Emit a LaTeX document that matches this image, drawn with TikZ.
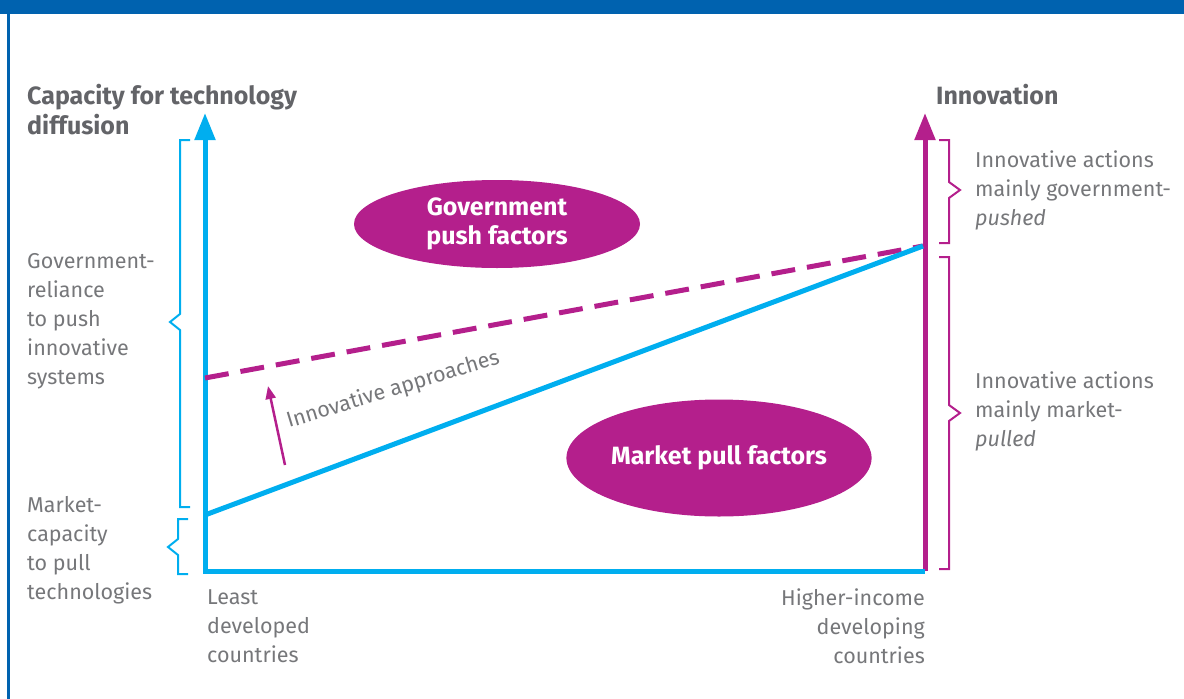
\documentclass[tikz,border=0pt]{standalone}
\usepackage{fontspec}
\setmainfont{Fira Sans}
\usetikzlibrary{arrows.meta,shapes.geometric}
\definecolor{barblue}{RGB}{0,98,175}
\definecolor{axcyan}{RGB}{0,174,239}
\definecolor{axmag}{RGB}{180,31,140}
\definecolor{txtgray}{RGB}{118,119,122}
\definecolor{headgray}{RGB}{99,100,104}
\tikzset{
  lbl/.style={text=txtgray, font=\fontsize{21.5}{29}\selectfont, align=left, inner sep=0pt},
  head/.style={text=headgray, font=\fontsize{25}{30}\selectfont\bfseries, align=left, inner sep=0pt},
  blob/.style={ellipse, fill=axmag, text=white, font=\fontsize{25}{29}\selectfont\bfseries, align=center, inner sep=0pt},
  axis/.style={line width=5pt, line join=miter},
  brc/.style={line width=2pt},
}
\begin{document}
\begin{tikzpicture}[x=1pt,y=-1pt]
\useasboundingbox (0,0) rectangle (1184,699);
\fill[barblue] (0,0) rectangle (1184,14);
\draw[barblue, line width=2.5pt] (8.5,0) -- (8.5,699);
\coordinate (ytop) at (205,113);
\coordinate (orig) at (205,571);
\coordinate (xend) at (925,571);
\coordinate (itop) at (925,113);
\coordinate (lowcap) at (205,515);
\coordinate (lowpush) at (205,378);
\coordinate (meet) at (923,246);
\coordinate (arrfrom) at (285,465);
\coordinate (arrto) at (268,386);
\draw[axis, axmag, -{Triangle[length=27pt,width=20pt]}] (xend) -- (itop);
\draw[axis, axcyan, {Triangle[length=27pt,width=20pt]}-] (ytop) -- (orig) -- (xend);
\draw[axmag, line width=5pt, dash pattern=on 24pt off 12pt] (lowpush) -- (meet);
\draw[axcyan, line width=5pt] (lowcap) -- (meet);
\draw[axmag, line width=2.5pt, -{Triangle[length=13pt,width=10pt]}] (arrfrom) -- (arrto);
\draw[brc, axcyan] (190,140) -- (180,140) -- (180,314) -- (170,322) -- (180,330) -- (180,507) -- (190,507);
\draw[brc, axcyan] (188,519) -- (178,519) -- (178,539) -- (168,547) -- (178,555) -- (178,574) -- (188,574);
\draw[brc, axmag] (939,140) -- (949,140) -- (949,182) -- (960,190) -- (949,198) -- (949,243) -- (939,243);
\draw[brc, axmag] (939,257) -- (949,257) -- (949,405) -- (960,413) -- (949,421) -- (949,569) -- (939,569);
\node[head, anchor=north west] (capacity) at (27,84) {Capacity for technology\\diffusion};
\node[head, anchor=north west] (innovation) at (936,84) {Innovation};
\node[blob, minimum width=286pt, minimum height=88pt] (push) at (497,224) {Government\\push factors};
\node[blob, minimum width=290pt, minimum height=117pt] (pull) at (719,458) {Market pull factors};
\node[lbl, anchor=north west] (reliance) at (27,253) {Government-\\reliance\\to push\\innovative\\systems};
\node[lbl, anchor=north west] (marketcap) at (27,496) {Market-\\capacity\\to pull\\technologies};
\node[lbl, anchor=north west] (least) at (207,589) {Least\\developed\\countries};
\node[lbl, anchor=north east, align=right] (higher) at (925,589) {Higher-income\\developing\\countries};
\node[lbl, anchor=north west] (govpushed) at (975,151) {Innovative actions\\mainly government-\\\textit{pushed}};
\node[lbl, anchor=north west] (mktpulled) at (975,372) {Innovative actions\\mainly market-\\\textit{pulled}};
\node[lbl, anchor=base west, rotate=17] (approaches) at (289,428) {Innovative approaches};
\end{tikzpicture}
\end{document}
